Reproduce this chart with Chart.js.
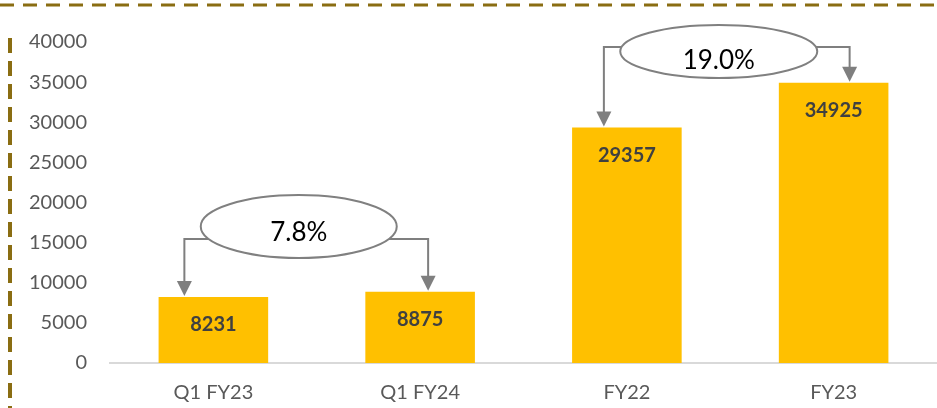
<!DOCTYPE html>
<html>
<head>
<meta charset="utf-8">
<script src="https://cdn.jsdelivr.net/npm/chart.js@4"></script>
<style>
html,body{margin:0;padding:0;background:#fff;}
#wrap{position:relative;width:937px;height:408px;}
</style>
</head>
<body>
<div id="wrap"><canvas id="c" width="937" height="408"></canvas></div>
<script>
const categories = ['Q1 FY23', 'Q1 FY24', 'FY22', 'FY23'];
const revenue = [8231, 8875, 29357, 34925];
const yTicks = [0, 5000, 10000, 15000, 20000, 25000, 30000, 35000, 40000];
const growthLabels = ['7.8%', '19.0%'];
const growthPairs = [[0, 1], [2, 3]];

// layout of the callouts (pixel offsets relative to the category centres)
const callouts = [
  {ex: -18, ey: 226.5, rx: 98, ry: 31.5, ty: 233, lineY: 239, ax: [-29, 8]},
  {ex: -11.5, ey: 51.5, rx: 98.5, ry: 26.5, ty: 61, lineY: 47, ax: [-23, 16]}
];

const FONT = 'Lato, "Open Sans", sans-serif';

const deco = {
  id: 'deco',
  afterDraw(chart) {
    const ctx = chart.ctx;
    const x = chart.scales.x, y = chart.scales.y;
    ctx.save();
    // top dashed rule
    ctx.strokeStyle = '#8a6d12';
    ctx.lineWidth = 3;
    ctx.setLineDash([14, 9]);
    ctx.beginPath(); ctx.moveTo(0, 5); ctx.lineTo(937, 5); ctx.stroke();
    // left dashed rule
    ctx.lineWidth = 4;
    ctx.setLineDash([15, 8]);
    ctx.beginPath(); ctx.moveTo(10, 38); ctx.lineTo(10, 408); ctx.stroke();
    ctx.setLineDash([]);

    // value labels
    ctx.fillStyle = '#404040';
    ctx.font = 'bold 20px ' + FONT;
    ctx.textAlign = 'center';
    ctx.textBaseline = 'middle';
    revenue.forEach((v, i) => {
      ctx.fillText(String(v), x.getPixelForValue(i), y.getPixelForValue(v) + 28);
    });

    // growth callouts
    growthPairs.forEach((pair, k) => {
      const c = callouts[k];
      const cx0 = x.getPixelForValue(pair[0]);
      const cx1 = x.getPixelForValue(pair[1]);
      const cx = (cx0 + cx1) / 2 + c.ex;
      ctx.strokeStyle = '#7f7f7f';
      ctx.fillStyle = '#7f7f7f';
      ctx.lineWidth = 2;
      [0, 1].forEach(side => {
        const idx = pair[side];
        const axp = x.getPixelForValue(idx) + c.ax[side];
        const tip = y.getPixelForValue(revenue[idx]) - 1;
        const dy = c.lineY - c.ey;
        const ex = cx + (side ? 1 : -1) * c.rx * Math.sqrt(Math.max(0, 1 - (dy * dy) / (c.ry * c.ry)));
        ctx.beginPath();
        ctx.moveTo(ex, c.lineY);
        ctx.lineTo(axp, c.lineY);
        ctx.lineTo(axp, tip - 12);
        ctx.stroke();
        ctx.beginPath();
        ctx.moveTo(axp - 7.5, tip - 15);
        ctx.lineTo(axp + 7.5, tip - 15);
        ctx.lineTo(axp, tip);
        ctx.closePath();
        ctx.fill();
      });
      ctx.beginPath();
      ctx.ellipse(cx, c.ey, c.rx, c.ry, 0, 0, Math.PI * 2);
      ctx.fillStyle = '#ffffff';
      ctx.fill();
      ctx.strokeStyle = '#808080';
      ctx.lineWidth = 2;
      ctx.stroke();
      ctx.fillStyle = '#000000';
      ctx.font = '26px ' + FONT;
      ctx.fillText(growthLabels[k], cx, c.ty);
    });
    ctx.restore();
  }
};

new Chart(document.getElementById('c'), {
  type: 'bar',
  data: {
    labels: categories,
    datasets: [{
      data: revenue,
      backgroundColor: '#FFC000',
      borderWidth: 0,
      barPercentage: 0.53,
      categoryPercentage: 1.0
    }]
  },
  options: {
    responsive: false,
    animation: false,
    devicePixelRatio: 1,
    layout: {padding: {top: 42, right: 0, bottom: 0, left: 0}},
    plugins: {legend: {display: false}, tooltip: {enabled: false}},
    scales: {
      x: {
        grid: {display: false, drawTicks: false},
        border: {display: true, color: '#d9d9d9', width: 2},
        ticks: {color: '#595959', font: {family: FONT, size: 20}, padding: 18, maxRotation: 0},
        afterFit(s) { s.height = 45; }
      },
      y: {
        min: 0, max: 40000,
        afterBuildTicks(s) { s.ticks = yTicks.map(v => ({value: v})); },
        grid: {display: false, drawTicks: false},
        border: {display: false},
        ticks: {color: '#595959', font: {family: FONT, size: 20}, padding: 23,
                callback: v => String(v)},
        afterFit(s) { s.width = 110; }
      }
    }
  },
  plugins: [deco]
});
</script>
</body>
</html>
